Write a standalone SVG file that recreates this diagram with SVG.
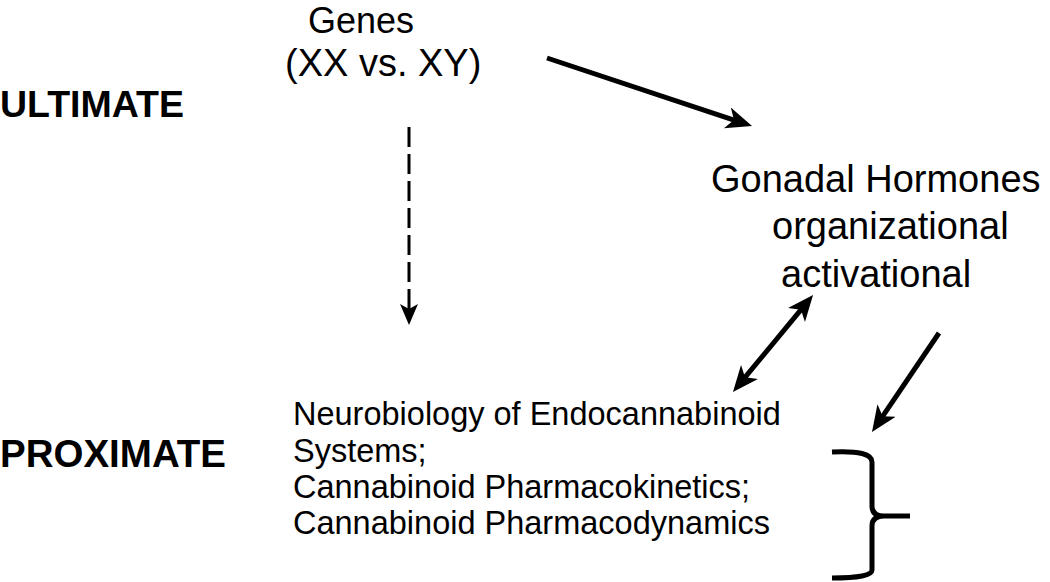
<svg xmlns="http://www.w3.org/2000/svg" width="1050" height="582" viewBox="0 0 1050 582">
<style>
text{font-family:"Liberation Sans",Arial,sans-serif;fill:#000}
.lbl{font-size:38px}
.head{font-size:37.5px;font-weight:bold}
.body{font-size:32.5px}
.conn{stroke:#000;fill:none;stroke-width:5}
.dash{stroke:#000;fill:none;stroke-width:3;stroke-dasharray:20 7}
</style>
<defs>
<marker id="ah" markerUnits="userSpaceOnUse" markerWidth="30" markerHeight="26" viewBox="0 -13 30 26" refX="11" refY="0" orient="auto-start-reverse">
<path d="M0,-11 L26,0 L0,11 L7,0 Z" fill="#000"/>
</marker>
<marker id="ahs" markerUnits="userSpaceOnUse" markerWidth="24" markerHeight="22" viewBox="0 -11 24 22" refX="6" refY="0" orient="auto">
<path d="M0,-9 L21,0 L0,9 L5,0 Z" fill="#000"/>
</marker>
</defs>
<g id="ultimate"><text class="head" x="0" y="117">ULTIMATE</text></g>
<g id="proximate"><text class="head" x="0" y="467" style="font-size:38.5px">PROXIMATE</text></g>
<g id="genes">
<text class="lbl" x="308" y="33" style="font-size:36px">Genes</text>
<text class="lbl" x="285" y="76">(XX vs. XY)</text>
</g>
<g id="gonadal">
<text class="lbl" x="711" y="192">Gonadal Hormones</text>
<text class="lbl" x="772" y="239">organizational</text>
<text class="lbl" x="781" y="287">activational</text>
</g>
<g id="proximate-mechanisms">
<text class="body" x="293" y="425">Neurobiology of Endocannabinoid</text>
<text class="body" x="293" y="462">Systems;</text>
<text class="body" x="293" y="498">Cannabinoid Pharmacokinetics;</text>
<text class="body" x="293" y="534">Cannabinoid Pharmacodynamics</text>
</g>
<g id="connectors">
<line class="conn" x1="547" y1="58" x2="737.8" y2="121.3" marker-end="url(#ah)"/>
<line class="dash" x1="409" y1="127" x2="409" y2="310" marker-end="url(#ahs)"/>
<line class="conn" x1="742.5" y1="380.4" x2="803.5" y2="306.6" marker-start="url(#ah)" marker-end="url(#ah)"/>
<line class="conn" x1="939" y1="333" x2="880.4" y2="419.6" marker-end="url(#ah)"/>
<path class="conn" stroke-width="4" d="M832,452 Q872,450 872,462 L872,506 Q872,516 884,516 L910,516 M884,516 Q872,516 872,526 L872,570 Q872,578 832,578"/>
</g>
</svg>
